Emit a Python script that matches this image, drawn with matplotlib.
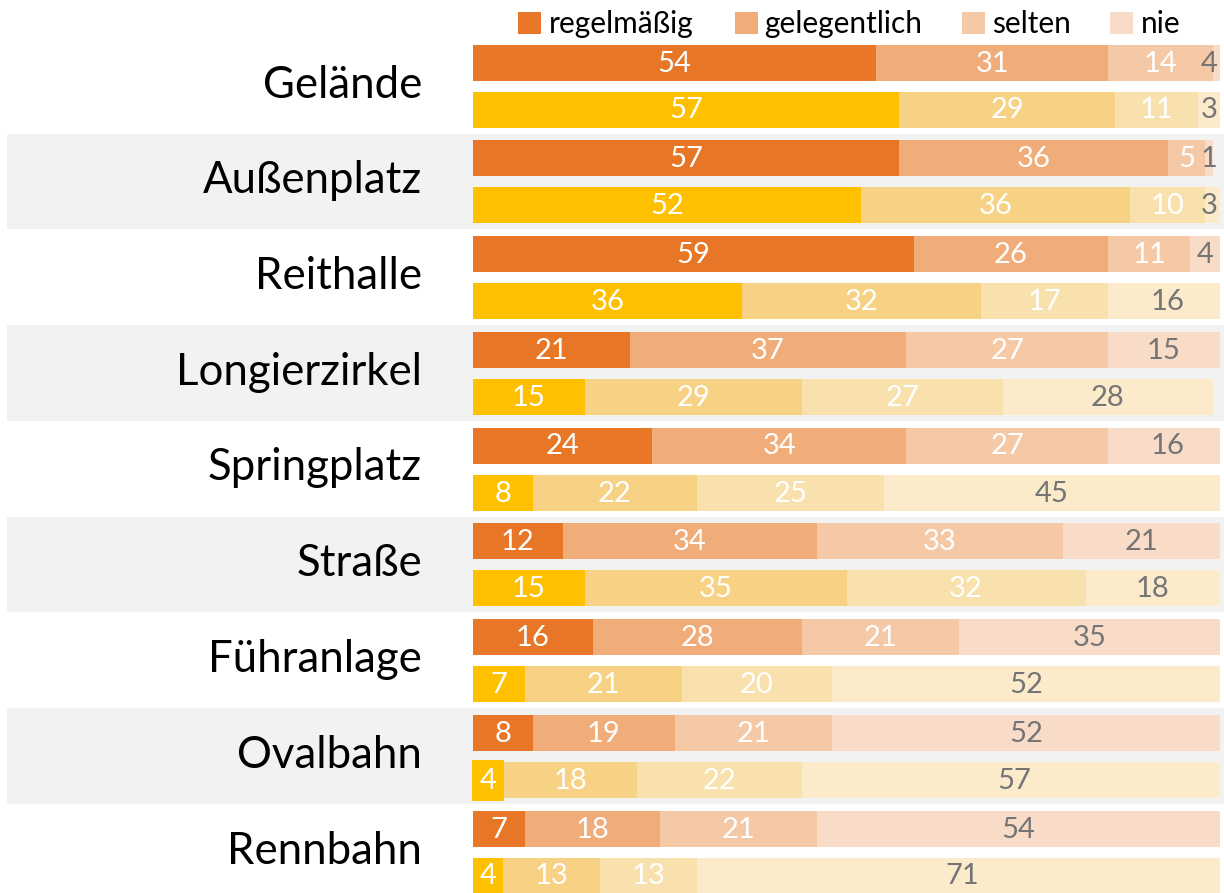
import matplotlib
matplotlib.use("Agg")
import matplotlib.pyplot as plt
from matplotlib.patches import Rectangle
import numpy as np

plt.rcParams['font.family'] = ['Lato', 'DejaVu Sans']

categories = ["Gelände", "Außenplatz", "Reithalle", "Longierzirkel", "Springplatz",
              "Straße", "Führanlage", "Ovalbahn", "Rennbahn"]
legend_labels = ["regelmäßig", "gelegentlich", "selten", "nie"]

# first (orange) series per category: regelmäßig, gelegentlich, selten, nie
orange_vals = [
    [54, 31, 14, 4],
    [57, 36, 5, 1],
    [59, 26, 11, 4],
    [21, 37, 27, 15],
    [24, 34, 27, 16],
    [12, 34, 33, 21],
    [16, 28, 21, 35],
    [8, 19, 21, 52],
    [7, 18, 21, 54],
]
# second (yellow) series per category
yellow_vals = [
    [57, 29, 11, 3],
    [52, 36, 10, 3],
    [36, 32, 17, 16],
    [15, 29, 27, 28],
    [8, 22, 25, 45],
    [15, 35, 32, 18],
    [7, 21, 20, 52],
    [4, 18, 22, 57],
    [4, 13, 13, 71],
]

orange_colors = ["#E77726", "#F0AD7A", "#F5C9A6", "#F8DCC7"]
yellow_colors = ["#FFC000", "#F7D285", "#F9E1AD", "#FBEBCB"]
text_colors = ["white", "white", "white", "#757575"]

W, H = 1224, 893
fig = plt.figure(figsize=(W / 100, H / 100), dpi=100)
ax = fig.add_axes([0, 0, 1, 1])
x0_px, x100_px = 473, 1220
scale = (x100_px - x0_px) / 100.0
ax.set_xlim(-x0_px / scale, (W - x0_px) / scale)
ax.set_ylim(H, 0)
ax.axis('off')

def px2x(p):
    return (p - x0_px) / scale

group_h = 95.75
top0 = 38
bar_h = 36

for i, cat in enumerate(categories):
    gt = top0 + i * group_h
    if i % 2 == 1:
        ax.add_patch(Rectangle((px2x(7), gt), px2x(W) - px2x(7), 95.5,
                               facecolor="#F2F2F2", edgecolor='none', zorder=0,
                               clip_on=False))
    ax.text(px2x(422), gt + 59.5, cat, ha='right', va='baseline',
            fontsize=31.5, color='black')
    for s, (vals, cols, yc) in enumerate(((orange_vals[i], orange_colors, gt + 24.5),
                                          (yellow_vals[i], yellow_colors, gt + 71.5))):
        left = 0
        for j, v in enumerate(vals):
            right = min(left + v, 100)
            w = right - left
            if w > 0:
                ax.barh(yc, w, left=left, height=bar_h, color=cols[j],
                        edgecolor='none', zorder=2)
            cx = min(left + v / 2, 98.6)
            bbox = None
            if cat == "Ovalbahn" and s == 1 and j == 0:
                bbox = dict(boxstyle='square,pad=0.25', facecolor=cols[j],
                            edgecolor='none')
            ax.text(cx, yc + 1, str(v), ha='center', va='center',
                    fontsize=21, color=text_colors[j], zorder=3, bbox=bbox)
            left += v

# legend
leg_sq_x = [518, 735, 962, 1110]
leg_tx_x = [549, 764, 992, 1141]
for k, lab in enumerate(legend_labels):
    ax.add_patch(Rectangle((px2x(leg_sq_x[k]), 12), 23 / scale, 22,
                           facecolor=orange_colors[k], edgecolor='none', clip_on=False))
    ax.text(px2x(leg_tx_x[k]), 33, lab, ha='left', va='baseline',
            fontsize=21.5, color='black')

fig.savefig("out.png", dpi=100)
